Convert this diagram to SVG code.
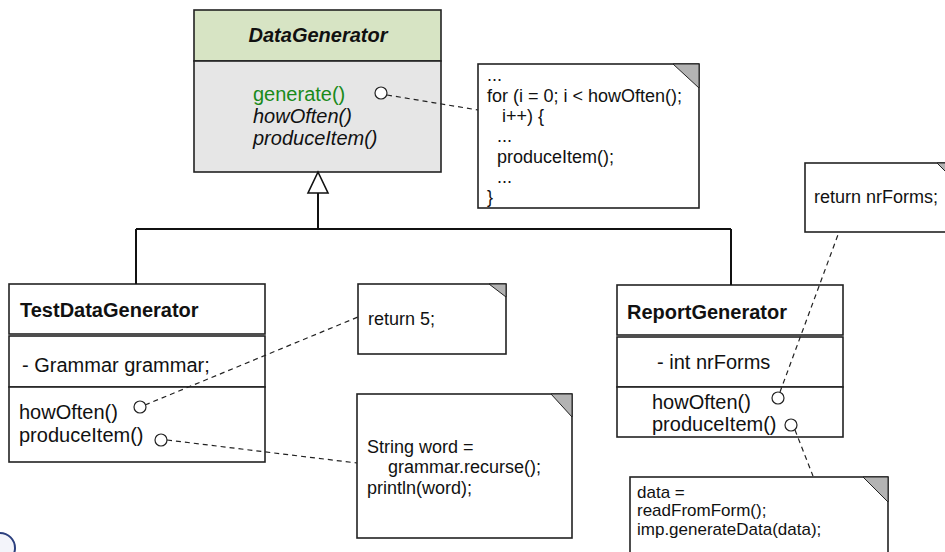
<svg xmlns="http://www.w3.org/2000/svg" width="945" height="552" viewBox="0 0 945 552">
<style>
text{font-family:"Liberation Sans",Arial,sans-serif;fill:#111}
.box{fill:#fff;stroke:#222;stroke-width:1.6}
.hdr{fill:#d7e4c4;stroke:#222;stroke-width:1.6}
.body{fill:#e6e6e6;stroke:#222;stroke-width:1.6}
.note{fill:#fff;stroke:#222;stroke-width:1.6}
.fold{fill:#b3b3b3;stroke:#222;stroke-width:1}
.cls{font-size:20px;font-weight:bold}
.m{font-size:20px}
.n{font-size:18px}
.dash{fill:none;stroke:#222;stroke-width:1.2;stroke-dasharray:5 4}
.line{fill:none;stroke:#111;stroke-width:2}
.pin{fill:#fff;stroke:#222;stroke-width:1.2}
</style>
<g id="DataGenerator">
<rect class="hdr" x="194" y="10" width="247" height="51"/>
<rect class="body" x="194" y="61" width="247" height="111"/>
<text class="cls" x="318" y="42" text-anchor="middle" font-style="italic">DataGenerator</text>
<text class="m" x="253" y="101" style="fill:#1a8a1a">generate()</text>
<text class="m" x="253" y="123" font-style="italic">howOften()</text>
<text class="m" x="253" y="145" font-style="italic">produceItem()</text>
</g>
<g id="note-generate">
<rect class="note" x="478" y="64" width="221" height="144"/>
<polygon class="fold" points="673,64 699,64 699,88"/>
<text class="n" x="487" y="81">...</text>
<text class="n" x="487" y="102">for (i = 0; i &lt; howOften();</text>
<text class="n" x="487" y="122" xml:space="preserve">   i++) {</text>
<text class="n" x="487" y="142" xml:space="preserve">  ...</text>
<text class="n" x="487" y="163" xml:space="preserve">  produceItem();</text>
<text class="n" x="487" y="183" xml:space="preserve">  ...</text>
<text class="n" x="487" y="203">}</text>
</g>
<g id="TestDataGenerator">
<rect class="box" x="9" y="284" width="256" height="50"/>
<rect class="box" x="9" y="336" width="256" height="51"/>
<rect class="box" x="9" y="387" width="256" height="75"/>
<text class="cls" x="20" y="317">TestDataGenerator</text>
<text class="m" x="22" y="372">- Grammar grammar;</text>
<text class="m" x="19" y="419">howOften()</text>
<text class="m" x="19" y="442">produceItem()</text>
</g>
<g id="note-return5">
<rect class="note" x="358" y="284" width="148" height="70"/>
<polygon class="fold" points="489,284 506,284 506,297"/>
<text class="n" x="368" y="325">return 5;</text>
</g>
<g id="note-string">
<rect class="note" x="357" y="394" width="215" height="144"/>
<polygon class="fold" points="551,394 572,394 572,417"/>
<text class="n" x="367" y="453">String word =</text>
<text class="n" x="388" y="473">grammar.recurse();</text>
<text class="n" x="367" y="494">println(word);</text>
</g>
<g id="ReportGenerator">
<rect class="box" x="617" y="285" width="226" height="50"/>
<rect class="box" x="617" y="337" width="226" height="50"/>
<rect class="box" x="617" y="387" width="226" height="50"/>
<text class="cls" x="627" y="319">ReportGenerator</text>
<text class="m" x="657" y="369">- int nrForms</text>
<text class="m" x="652" y="409">howOften()</text>
<text class="m" x="652" y="431">produceItem()</text>
</g>
<g id="note-nrForms">
<rect class="note" x="805" y="163" width="157" height="69"/>
<polygon class="fold" points="937,163 962,163 962,188"/>
<text class="n" x="814" y="203">return nrForms;</text>
</g>
<g id="note-data">
<rect class="note" x="630" y="477" width="258" height="90"/>
<polygon class="fold" points="863,477 888,477 888,502"/>
<text class="n" x="637" y="498" style="font-size:17px">data =</text>
<text class="n" x="637" y="516" style="font-size:17px">readFromForm();</text>
<text class="n" x="637" y="535" style="font-size:17px">imp.generateData(data);</text>
</g>
<g id="logo">
<circle cx="0" cy="548" r="15" fill="#f3f4fa" stroke="#2b3f7e" stroke-width="2"/>
</g>
<g id="connectors">
<path class="line" d="M318 192 V229 M136 229 H731 M136 229 V284 M731 229 V285"/>
<polygon points="318,172 308,193 328,193" fill="#fff" stroke="#111" stroke-width="1.6"/>
<line class="dash" x1="387" y1="95" x2="478" y2="110"/>
<line class="dash" x1="145" y1="405" x2="358" y2="317"/>
<line class="dash" x1="167" y1="440" x2="357" y2="463"/>
<line class="dash" x1="780" y1="392" x2="839" y2="232"/>
<line class="dash" x1="795" y1="430" x2="813" y2="476"/>
<circle class="pin" cx="381" cy="93" r="6"/>
<circle class="pin" cx="140" cy="407" r="6"/>
<circle class="pin" cx="161" cy="440" r="6"/>
<circle class="pin" cx="778" cy="398" r="6"/>
<circle class="pin" cx="791" cy="425" r="6"/>
</g>
</svg>
